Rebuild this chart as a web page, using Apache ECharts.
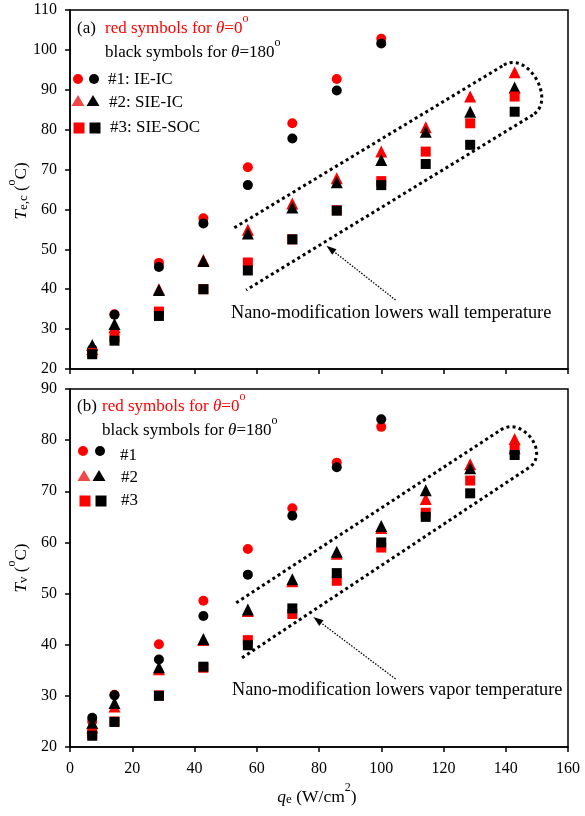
<!DOCTYPE html>
<html>
<head>
<meta charset="utf-8">
<script src="https://cdn.jsdelivr.net/npm/echarts@6/dist/echarts.min.js"></script>
<style>
  html, body { margin: 0; padding: 0; background: #fff; }
  #chart { width: 585px; height: 816px; }
</style>
</head>
<body>
<div id="chart"></div>
<script>
// heat flux q_e (W/cm2)
var qe = [7.14, 14.29, 28.57, 42.86, 57.14, 71.43, 85.71, 100, 114.29, 128.57, 142.86];

// (a) wall temperature T_e,c
var tecIeRed = [24.6, 33.7, 46.6, 57.8, 70.6, 81.6, 92.7, 102.8];
var tecIeBlk = [25.0, 33.6, 45.6, 56.5, 66.1, 77.8, 89.8, 101.6];
var tecSieRed = [25.0, 30.5, 40.0, 47.3, 54.9, 61.5, 67.8, 74.5, 80.6, 88.3, 94.4];
var tecSieBlk = [26.0, 31.3, 39.8, 47.1, 54.0, 60.5, 66.8, 72.4, 79.5, 84.5, 90.6];
var tecSocRed = [24.0, 28.0, 34.4, 40.0, 46.7, 52.5, 59.8, 67.1, 74.5, 81.6, 88.3];
var tecSocBlk = [23.7, 27.1, 33.3, 40.0, 44.7, 52.5, 59.7, 66.1, 71.4, 76.2, 84.5];

// (b) vapor temperature T_v
var tvIeRed = [25.0, 30.2, 40.1, 48.6, 58.7, 66.7, 75.6, 82.6];
var tvIeBlk = [25.7, 30.1, 37.1, 45.6, 53.7, 65.2, 74.7, 84.1];
var tvSieRed = [23.8, 27.9, 35.2, 40.9, 46.6, 52.4, 57.8, 62.8, 68.5, 75.3, 80.2];
var tvSieBlk = [24.7, 28.6, 35.6, 41.1, 46.9, 52.8, 58.2, 63.2, 70.2, 74.5, 78.4];
var tvSocRed = [22.6, 25.0, 30.1, 35.5, 40.9, 46.0, 52.5, 59.0, 65.8, 72.1, 78.3];
var tvSocBlk = [22.2, 24.9, 30.0, 35.7, 39.9, 47.1, 54.0, 60.0, 65.0, 69.6, 77.1];

var FONT = "'Liberation Serif', 'DejaVu Serif', serif";
var RED = '#ff0000';

function pairs(vals) {
    return vals.map(function (v, i) { return [qe[i], v]; });
}

function sc(name, vals, grid, symbol, size, color) {
    return {
        name: name,
        type: 'scatter',
        xAxisIndex: grid,
        yAxisIndex: grid,
        symbol: symbol,
        symbolSize: size,
        itemStyle: { color: color, opacity: 1 },
        data: pairs(vals)
    };
}

function axis(grid, min, max, interval, showLabel, margin) {
    return {
        type: 'value', gridIndex: grid, min: min, max: max, interval: interval,
        axisLine: { show: true, onZero: false, lineStyle: { color: '#000', width: 1.5 } },
        axisTick: { show: true, inside: false, length: 5, lineStyle: { color: '#000', width: 1.5 } },
        splitLine: { show: false },
        axisLabel: { show: showLabel, margin: margin, color: '#000', fontFamily: FONT, fontSize: 16 }
    };
}

var chart = echarts.init(document.getElementById('chart'), null, { renderer: 'canvas' });

chart.setOption({
    backgroundColor: '#fff',
    animation: false,
    grid: [
        { left: 70, top: 10, width: 498, height: 359, show: true, borderColor: '#000', borderWidth: 1.5, backgroundColor: 'transparent' },
        { left: 70, top: 389, width: 498, height: 358, show: true, borderColor: '#000', borderWidth: 1.5, backgroundColor: 'transparent' }
    ],
    xAxis: [axis(0, 0, 160, 20, false, 14), axis(1, 0, 160, 20, true, 14)],
    yAxis: [axis(0, 20, 110, 10, true, 13), axis(1, 20, 90, 10, true, 13)],
    series: [
        sc('a #1 0', tecIeRed, 0, 'circle', 10, RED),
        sc('a #1 180', tecIeBlk, 0, 'circle', 10, '#000'),
        sc('a #2 0', tecSieRed, 0, 'triangle', 12, RED),
        sc('a #2 180', tecSieBlk, 0, 'triangle', 12, '#000'),
        sc('a #3 0', tecSocRed, 0, 'rect', 10, RED),
        sc('a #3 180', tecSocBlk, 0, 'rect', 10, '#000'),
        sc('b #1 0', tvIeRed, 1, 'circle', 10, RED),
        sc('b #1 180', tvIeBlk, 1, 'circle', 10, '#000'),
        sc('b #2 0', tvSieRed, 1, 'triangle', 12, RED),
        sc('b #2 180', tvSieBlk, 1, 'triangle', 12, '#000'),
        sc('b #3 0', tvSocRed, 1, 'rect', 10, RED),
        sc('b #3 180', tvSocBlk, 1, 'rect', 10, '#000')
    ]
});

// ---- annotations ----
function makeRich(fs) {
    var lh = Math.round(fs * 1.4), ss = Math.round(fs * 0.68);
    return {
        n: { fontFamily: FONT, fontSize: fs, lineHeight: lh, fill: '#000', verticalAlign: 'bottom' },
        r: { fontFamily: FONT, fontSize: fs, lineHeight: lh, fill: RED, verticalAlign: 'bottom' },
        ni: { fontFamily: FONT, fontSize: fs, fontStyle: 'italic', lineHeight: lh, fill: '#000', verticalAlign: 'bottom' },
        ri: { fontFamily: FONT, fontSize: fs, fontStyle: 'italic', lineHeight: lh, fill: RED, verticalAlign: 'bottom' },
        // superscripts: centre about 5px above the main text centre
        ns: { fontFamily: FONT, fontSize: ss, lineHeight: lh - 10, fill: '#000', verticalAlign: 'top' },
        rs: { fontFamily: FONT, fontSize: ss, lineHeight: lh - 10, fill: RED, verticalAlign: 'top' },
        sub: { fontFamily: FONT, fontSize: ss + 1, lineHeight: Math.round(fs * 0.6), fill: '#000', verticalAlign: 'bottom' }
    };
}

function txt(x, y, text, fs, align, rotation) {
    return {
        type: 'text', x: x, y: y, silent: true, rotation: rotation || 0,
        style: { text: text, rich: makeRich(fs), fill: '#000', font: fs + 'px ' + FONT, align: align || 'left', verticalAlign: 'middle' }
    };
}

function keyCircle(x, y, c) { return { type: 'circle', silent: true, shape: { cx: x, cy: y, r: 5 }, style: { fill: c } }; }
function keyTri(x, y, c) { return { type: 'polygon', silent: true, shape: { points: [[x, y - 6], [x + 6.5, y + 5], [x - 6.5, y + 5]] }, style: { fill: c } }; }
function keyRect(x, y, c) { return { type: 'rect', silent: true, shape: { x: x - 5.5, y: y - 5.5, width: 11, height: 11 }, style: { fill: c } }; }

function px(grid, p) {
    return chart.convertToPixel({ gridIndex: grid }, p);
}

var dotted = { fill: null, stroke: '#000', lineWidth: 3, lineDash: [3, 3.2] };

// dotted outline round the SIE points: upper line, rounded cap, lower line
function loop(grid, a, b, c, d, k) {
    var p1 = px(grid, a), p2 = px(grid, b), p3 = px(grid, c), p4 = px(grid, d);
    var u = [p2[0] - p1[0], p2[1] - p1[1]], lu = Math.hypot(u[0], u[1]);
    var v = [p3[0] - p4[0], p3[1] - p4[1]], lv = Math.hypot(v[0], v[1]);
    var c1 = [p2[0] + k * u[0] / lu, p2[1] + k * u[1] / lu];
    var c2 = [p3[0] + k * v[0] / lv, p3[1] + k * v[1] / lv];
    return [
        { type: 'line', silent: true, shape: { x1: p1[0], y1: p1[1], x2: p2[0], y2: p2[1] }, style: dotted },
        { type: 'bezierCurve', silent: true, shape: { x1: p2[0], y1: p2[1], cpx1: c1[0], cpy1: c1[1], cpx2: c2[0], cpy2: c2[1], x2: p3[0], y2: p3[1] }, style: dotted },
        { type: 'line', silent: true, shape: { x1: p3[0], y1: p3[1], x2: p4[0], y2: p4[1] }, style: dotted }
    ];
}

function arrow(grid, tail, tip) {
    var t = px(grid, tail), h = px(grid, tip);
    var dx = h[0] - t[0], dy = h[1] - t[1], l = Math.hypot(dx, dy);
    var ux = dx / l, uy = dy / l;
    var bx = h[0] - ux * 10, by = h[1] - uy * 10;
    return [
        { type: 'line', silent: true, shape: { x1: t[0], y1: t[1], x2: bx, y2: by }, style: { stroke: '#000', lineWidth: 1.3, lineDash: [1.5, 1.5] } },
        { type: 'polygon', silent: true, shape: { points: [h, [bx - uy * 3.5, by + ux * 3.5], [bx + uy * 3.5, by - ux * 3.5]] }, style: { fill: '#000' } }
    ];
}

var g = [];
// panel (a)
g.push(txt(77, 25, '{n|(a)}', 17));
g.push(txt(105, 25, '{r|red symbols for }{ri|θ}{r|=0}{rs|o}', 17));
g.push(txt(105, 49, '{n|black symbols for }{ni|θ}{n|=180}{ns|o}', 17));
g.push(keyCircle(78, 79, RED), keyCircle(94, 79, '#000'));
g.push(keyTri(78, 101, '#f04848'), keyTri(93, 101, '#000'));
g.push(keyRect(79, 128, RED), keyRect(95, 128, '#000'));
g.push(txt(108, 80, '#1: IE-IC', 17));
g.push(txt(109, 103, '#2: SIE-IC', 17));
g.push(txt(110, 128, '#3: SIE-SOC', 17));
g = g.concat(loop(0, [52.8, 55.4], [139.4, 96.2], [148.7, 83.7], [56.6, 39.8], 28));
g = g.concat(arrow(0, [104.6, 37.3], [82.4, 50.9]));
g.push(txt(231, 313, 'Nano-modification lowers wall temperature', 18.3));

// panel (b)
g.push(txt(77, 403, '{n|(b)}', 17));
g.push(txt(102, 403, '{r|red symbols for }{ri|θ}{r|=0}{rs|o}', 17));
g.push(txt(102, 427, '{n|black symbols for }{ni|θ}{n|=180}{ns|o}', 17));
g.push(keyCircle(83, 451, RED), keyCircle(100, 451, '#000'));
g.push(keyTri(84, 476, '#f04848'), keyTri(99, 476, '#000'));
g.push(keyRect(85, 501, RED), keyRect(101, 501, '#000'));
g.push(txt(120, 456, '#1', 17));
g.push(txt(121, 478, '#2', 17));
g.push(txt(121, 501, '#3', 17));
g = g.concat(loop(1, [53.4, 48.2], [138.4, 82.0], [147.4, 74.6], [54.7, 37.2], 26));
g = g.concat(arrow(1, [104.6, 33.3], [78.2, 45.4]));
g.push(txt(232, 690, 'Nano-modification lowers vapor temperature', 18.3));

// axis titles
g.push(txt(18, 191, '{ni|T}{sub|e,c}{n| (}{ns|o}{n|C)}', 17, 'center', Math.PI / 2));
g.push(txt(18, 568, '{ni|T}{sub|v}{n| (}{ns|o}{n|C)}', 17, 'center', Math.PI / 2));
g.push(txt(317, 794, '{ni|q}{sub|e}{n| (W/cm}{ns|2}{n|)}', 17.5, 'center'));

chart.setOption({ graphic: g });
</script>
</body>
</html>
